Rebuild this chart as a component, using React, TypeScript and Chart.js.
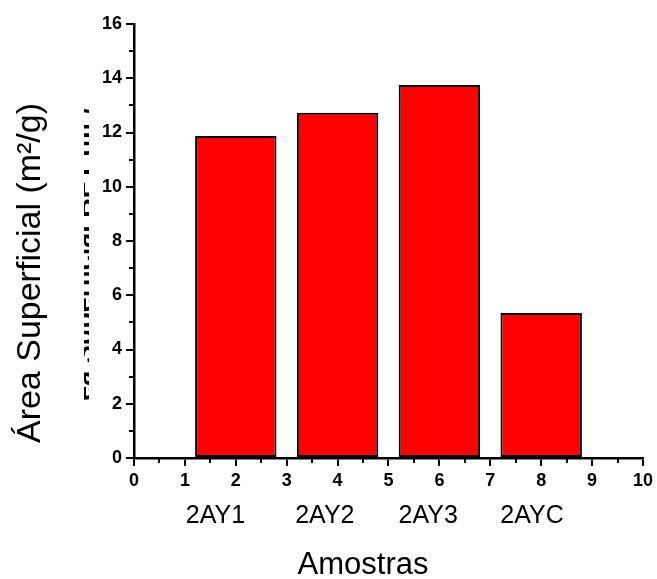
import React, { useEffect, useRef } from 'react';
import { Chart, registerables } from 'chart.js';

Chart.register(...registerables);

// ---- data ----
const CATEGORIES = ['2AY1', '2AY2', '2AY3', '2AYC'];
const BAR_X = [2, 4, 6, 8];
const VALUES = [11.87, 12.73, 13.75, 5.35];
const LABEL_X = [1.6, 3.75, 5.78, 7.82];
const X_MIN = 0;
const X_MAX = 10;
const X_STEP = 1;
const Y_MIN = 0;
const Y_MAX = 16;
const Y_STEP = 2;
const X_TITLE = 'Amostras';
const Y_TITLE = 'Área Superficial (m²/g)';
const GHOST_TITLE = 'Área Superficial BET (m²/g)';

const FONT = 'Arial, "Liberation Sans", sans-serif';

const overlay = {
  id: 'overlay',
  afterDraw(chart: any) {
    const { ctx, chartArea } = chart;
    const x = chart.scales.x;
    const y = chart.scales.y;
    ctx.save();
    // minor ticks
    ctx.strokeStyle = '#000';
    ctx.lineWidth = 2;
    ctx.beginPath();
    for (let v = X_MIN + X_STEP / 2; v < X_MAX; v += X_STEP) {
      const px = Math.round(x.getPixelForValue(v));
      ctx.moveTo(px, chartArea.bottom);
      ctx.lineTo(px, chartArea.bottom + 5);
    }
    for (let v = Y_MIN + Y_STEP / 2; v < Y_MAX; v += Y_STEP) {
      const py = Math.round(y.getPixelForValue(v));
      ctx.moveTo(chartArea.left, py);
      ctx.lineTo(chartArea.left - 5, py);
    }
    ctx.stroke();

    // category labels
    ctx.fillStyle = '#000';
    ctx.font = `25px ${FONT}`;
    ctx.textAlign = 'center';
    ctx.textBaseline = 'alphabetic';
    CATEGORIES.forEach((c, i) => {
      ctx.fillText(c, x.getPixelForValue(LABEL_X[i]), chartArea.bottom + 65);
    });

    // x title
    ctx.font = `31px ${FONT}`;
    ctx.fillText(X_TITLE, x.getPixelForValue(4.5), chartArea.bottom + 116);

    // y title
    ctx.save();
    ctx.translate(40, 273);
    ctx.rotate(-Math.PI / 2);
    ctx.font = `34px ${FONT}`;
    ctx.textAlign = 'center';
    ctx.fillText(Y_TITLE, 0, 0);
    ctx.restore();

    // partly hidden old title
    ctx.save();
    ctx.beginPath();
    ctx.rect(84, 108, 5, 295);
    ctx.clip();
    ctx.translate(93, 256);
    ctx.rotate(-Math.PI / 2);
    ctx.font = `bold 27px ${FONT}`;
    ctx.textAlign = 'center';
    ctx.fillText(GHOST_TITLE, 0, 0);
    ctx.restore();

    ctx.restore();
  },
};

export default function App() {
  const ref = useRef<HTMLCanvasElement>(null);
  useEffect(() => {
    const canvas = ref.current;
    if (!canvas) return;
    const chart = new Chart(canvas, {
      type: 'bar',
      data: {
        datasets: [
          {
            data: BAR_X.map((bx, i) => ({ x: bx, y: VALUES[i] })),
            backgroundColor: '#ff0000',
            borderColor: '#000000',
            borderWidth: 2,
            borderSkipped: false,
            barPercentage: 1.6,
            categoryPercentage: 1,
          } as any,
        ],
      },
      options: {
        responsive: false,
        animation: false,
        devicePixelRatio: 1,
        layout: { padding: { left: 0, top: 24, right: 8, bottom: 0 } },
        plugins: { legend: { display: false }, tooltip: { enabled: false } },
        scales: {
          x: {
            type: 'linear',
            min: X_MIN,
            max: X_MAX,
            offset: false,
            grid: {
              offset: false,
              drawOnChartArea: false,
              drawTicks: true,
              tickLength: 8,
              color: '#000',
              lineWidth: 2,
            },
            border: { display: true, color: '#000', width: 2.5 },
            ticks: {
              stepSize: X_STEP,
              color: '#000',
              padding: 4,
              maxRotation: 0,
              font: { family: FONT, size: 18, weight: 'bold' },
            },
            afterFit: (s: any) => {
              s.height = 121;
            },
          },
          y: {
            type: 'linear',
            min: Y_MIN,
            max: Y_MAX,
            grid: {
              drawOnChartArea: false,
              drawTicks: true,
              tickLength: 8,
              color: '#000',
              lineWidth: 2,
            },
            border: { display: true, color: '#000', width: 2.5 },
            ticks: {
              stepSize: Y_STEP,
              color: '#000',
              padding: 4,
              font: { family: FONT, size: 18, weight: 'bold' },
            },
            afterFit: (s: any) => {
              s.width = 134;
            },
          },
        },
      } as any,
      plugins: [overlay],
    });
    return () => chart.destroy();
  }, []);
  return (
    <canvas
      ref={ref}
      width={657}
      height={579}
      style={{ position: 'absolute', left: 0, top: 0, width: 657, height: 579 }}
    />
  );
}
